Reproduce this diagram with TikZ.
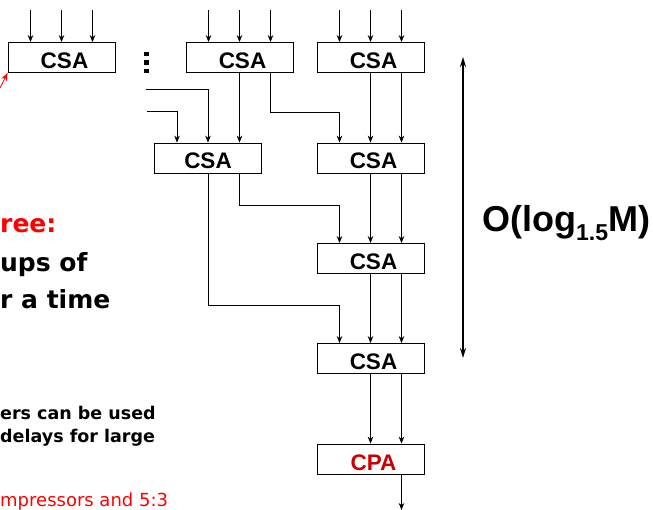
\documentclass[tikz,border=0pt]{standalone}
\usepackage{fontspec}
\setmainfont{Liberation Sans}
\newfontfamily\comicfont{DejaVu Sans}
\usetikzlibrary{arrows.meta}
\definecolor{cpared}{RGB}{204,0,0}
\begin{document}
\begin{tikzpicture}[x=1pt,y=-1pt,
  blk/.style={draw,line width=0.8pt,minimum width=107pt,minimum height=30pt,inner sep=0pt,
              text height=22pt,text depth=0pt,
              font=\fontsize{22.5}{22.5}\selectfont\bfseries},
  arr/.style={-{Stealth[length=7pt,width=5.5pt]},line width=0.7pt},
  bigarr/.style={{Stealth[length=10pt,width=6pt]}-{Stealth[length=10pt,width=6pt]},line width=2pt},
  ctext/.style={anchor=base west,inner sep=0pt,font=\comicfont\bfseries\fontsize{25}{25}\selectfont},
  stext/.style={anchor=base west,inner sep=0pt,font=\comicfont\bfseries\fontsize{17.5}{17.5}\selectfont},
  dotsq/.style={fill=black,minimum size=4.5pt,inner sep=0pt}]
\useasboundingbox (0,0) rectangle (653,510);
% blocks
\node[blk] (c1) at (61.5,57.5) {\hspace{6pt}CSA};
\node[blk] (c2) at (239.5,57.5) {\hspace{6pt}CSA};
\node[blk] (c3) at (370.5,57.5) {\hspace{6pt}CSA};
\node[blk] (c4) at (208,158) {CSA};
\node[blk] (c5) at (370.5,158) {\hspace{6pt}CSA};
\node[blk] (c6) at (370.5,258.5) {\hspace{6pt}CSA};
\node[blk] (c7) at (370.5,358.5) {\hspace{6pt}CSA};
\node[blk,text=cpared] (c8) at (370.5,459) {\hspace{6pt}CPA};
% top inputs
\foreach \b in {c1,c2,c3}{
  \foreach \d in {-31,0,31}{
    \draw[arr] ([xshift=\d pt]\b.north) ++(0,-32) -- ([xshift=\d pt]\b.north);
  }
}
% dots
\node[dotsq] (d1) at (146.5,54) {};
\node[dotsq] (d2) at (146.5,62.5) {};
\node[dotsq] (d3) at (146.5,71) {};
% side inputs
\coordinate (l1) at (146,89);
\coordinate (l2) at (147,111.5);
\draw[arr] (l1) -| (c4.north);
\draw[arr] (l2) -| ([xshift=-31pt]c4.north);
\draw[line width=1.6pt] (l2) -- (178,111.5);
% level 1 -> 2
\draw[arr] (c2.south) -- (c4.north -| c2.south);
\draw[arr] ([xshift=31pt]c2.south) -- ++(0,39.5) -| ([xshift=-31pt]c5.north);
\draw[arr] (c3.south) -- (c5.north);
\draw[arr] ([xshift=31pt]c3.south) -- ([xshift=31pt]c5.north);
% level 2 -> 3
\draw[arr] ([xshift=31pt]c4.south) -- ++(0,32) -| ([xshift=-31pt]c6.north);
\draw[arr] (c5.south) -- (c6.north);
\draw[arr] ([xshift=31pt]c5.south) -- ([xshift=31pt]c6.north);
% level 3 -> 4
\draw[arr] (c4.south) -- ++(0,131.5) -| ([xshift=-31pt]c7.north);
\draw[arr] (c6.south) -- (c7.north);
\draw[arr] ([xshift=31pt]c6.south) -- ([xshift=31pt]c7.north);
% to CPA
\draw[arr] (c7.south) -- (c8.north);
\draw[arr] ([xshift=31pt]c7.south) -- ([xshift=31pt]c8.north);
\coordinate (out) at (401.5,510);
\draw[arr] ([xshift=31pt]c8.south) -- (out);
% big arrow
\coordinate (ba) at (463,57);
\coordinate (bb) at (463,358);
\draw[bigarr] (ba) -- (bb);
\node[anchor=base west,inner sep=0pt,font=\bfseries\fontsize{36}{36}\selectfont] (olog) at (482,232)
  {O(log\raisebox{-9pt}{\fontsize{23}{23}\selectfont 1.5}M)};
% red arrow
\coordinate (ra) at (0,88);
\draw[red,line width=0.8pt,-{Stealth[length=8pt,width=6pt]}] (ra) -- (c1.south west);
% left texts
\node[ctext,text=red] (t1) at (0,233) {ree:};
\node[ctext] (t2) at (0,272) {ups of};
\node[ctext] (t3) at (0,309) {r a time};
\node[stext] (t4) at (0,419) {ers can be used};
\node[stext] (t5) at (0,442) {delays for large};
\node[anchor=base west,inner sep=0pt,text=red,font=\comicfont\fontsize{18}{18}\selectfont] (t6) at (0,506) {mpressors and 5:3};
\end{tikzpicture}
\end{document}
